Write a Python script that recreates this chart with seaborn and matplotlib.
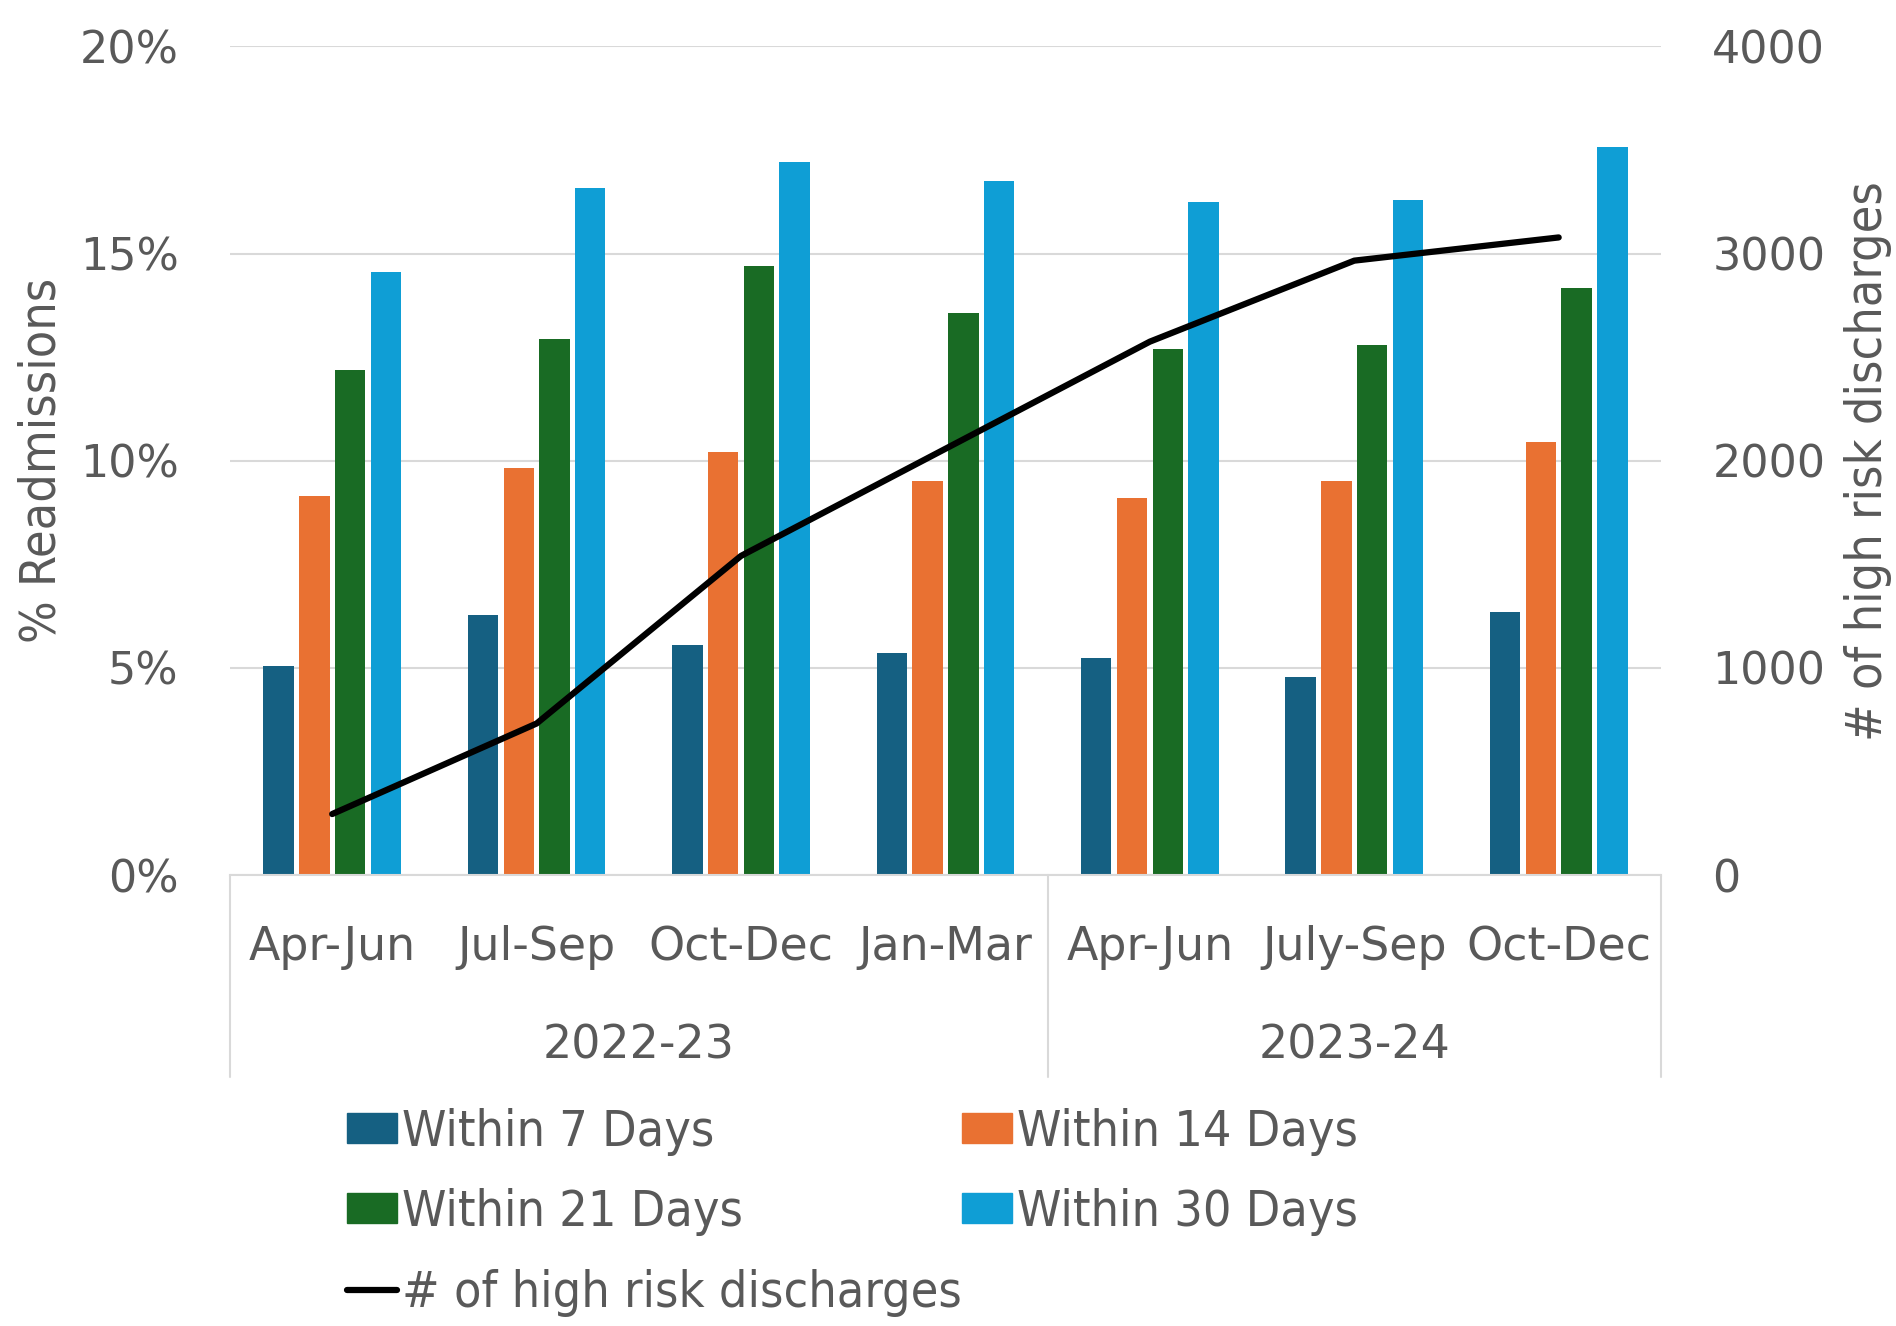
import matplotlib
matplotlib.use('Agg')
import matplotlib.pyplot as plt
import matplotlib.transforms as mtransforms
from matplotlib.patches import Patch
from matplotlib.lines import Line2D
from matplotlib.font_manager import FontProperties
import seaborn as sns
import numpy as np
import pandas as pd

# data
periods = ['Apr-Jun 22', 'Jul-Sep 22', 'Oct-Dec 22', 'Jan-Mar 23',
           'Apr-Jun 23', 'Jul-Sep 23', 'Oct-Dec 23']
quarters = ['Apr-Jun', 'Jul-Sep', 'Oct-Dec', 'Jan-Mar', 'Apr-Jun', 'July-Sep', 'Oct-Dec']
years = ['2022-23', '2023-24']
year_span = [(0, 3), (4, 6)]
series = ['Within 7 Days', 'Within 14 Days', 'Within 21 Days', 'Within 30 Days']
within_7 = [5.05, 6.27, 5.55, 5.36, 5.23, 4.78, 6.34]
within_14 = [9.15, 9.83, 10.22, 9.51, 9.10, 9.51, 10.45]
within_21 = [12.19, 12.95, 14.70, 13.56, 12.69, 12.79, 14.16]
within_30 = [14.55, 16.58, 17.22, 16.76, 16.24, 16.29, 17.58]
discharges = [295, 732, 1541, 2058, 2575, 2966, 3078]
line_label = '# of high risk discharges'

colors = ['#156082', '#E97132', '#196B24', '#0F9ED5']
grey = '#595959'
gridc = '#d9d9d9'

df = pd.DataFrame({'period': periods * 4,
                   'series': np.repeat(series, len(periods)),
                   'value': within_7 + within_14 + within_21 + within_30})

sns.set_theme(style='white')
plt.rcParams['font.family'] = ['DejaVu Sans']
narrow = FontProperties(family='DejaVu Sans', stretch='condensed', size=36)

fig, ax = plt.subplots(figsize=(18.96, 13.26), dpi=100)
fig.subplots_adjust(left=0.1213, right=0.876, top=0.965, bottom=0.34)

sns.barplot(data=df, x='period', y='value', hue='series', order=periods,
            hue_order=series, palette=colors, saturation=1, width=0.7, gap=0.15,
            linewidth=0, legend=False, ax=ax)
ax.set_xlim(-0.5, len(periods) - 0.5)
ax.set_ylim(0, 20)
ax.set_yticks([0, 5, 10, 15, 20])
ax.set_yticklabels([f'{v}%' for v in [0, 5, 10, 15, 20]])
ax.set_xticks(range(len(periods)))
ax.set_xticklabels(quarters)
ax.grid(axis='y', color=gridc, lw=1.5)
ax.set_axisbelow(True)
ax.tick_params(axis='x', length=0, pad=36, labelsize=33, labelcolor=grey)
ax.tick_params(axis='y', length=0, pad=37, labelsize=32, labelcolor=grey)
for s in ['left', 'right', 'top']:
    ax.spines[s].set_visible(False)
ax.spines['bottom'].set_color(gridc)
ax.spines['bottom'].set_linewidth(1.5)
ax.set_xlabel('')
ax.set_ylabel('% Readmissions', fontproperties=narrow, color=grey)
ax.yaxis.set_label_coords(-0.115, 0.5)

# year group separators and labels below the axis
trans = mtransforms.blended_transform_factory(ax.transData, ax.transAxes)
for x in [-0.5, 3.5, 6.5]:
    ax.axvline(x, ymin=-0.243, ymax=0, color=gridc, lw=1.5, clip_on=False)
for yr, (a, b) in zip(years, year_span):
    ax.text((a + b) / 2, -0.206, yr, transform=trans, ha='center', va='center',
            fontsize=33, color=grey)

ax2 = ax.twinx()
sns.lineplot(x=np.arange(len(periods)), y=discharges, ax=ax2, color='black',
             linewidth=4.5, solid_capstyle='round')
ax2.set_ylim(0, 4000)
ax2.set_yticks([0, 1000, 2000, 3000, 4000])
ax2.tick_params(axis='y', length=0, pad=37, labelsize=32, labelcolor=grey)
for s in ax2.spines.values():
    s.set_visible(False)
ax2.set_ylabel(line_label, fontproperties=narrow, color=grey)
ax2.yaxis.set_label_coords(1.128, 0.5)

handles = [Patch(color=colors[0]), Patch(color=colors[2]), Line2D([], [], color='black', lw=4.5),
           Patch(color=colors[1]), Patch(color=colors[3])]
labels = [series[0], series[2], line_label, series[1], series[3]]
fig.legend(handles, labels, ncol=2, loc='upper left', bbox_to_anchor=(0.183, 0.1647),
           frameon=False, prop=narrow, labelcolor=grey,
           handlelength=1.0, handleheight=0.55, handletextpad=0.1,
           columnspacing=0.0, labelspacing=0.65, borderaxespad=0, borderpad=0)

fig.savefig('out.png', dpi=100)
